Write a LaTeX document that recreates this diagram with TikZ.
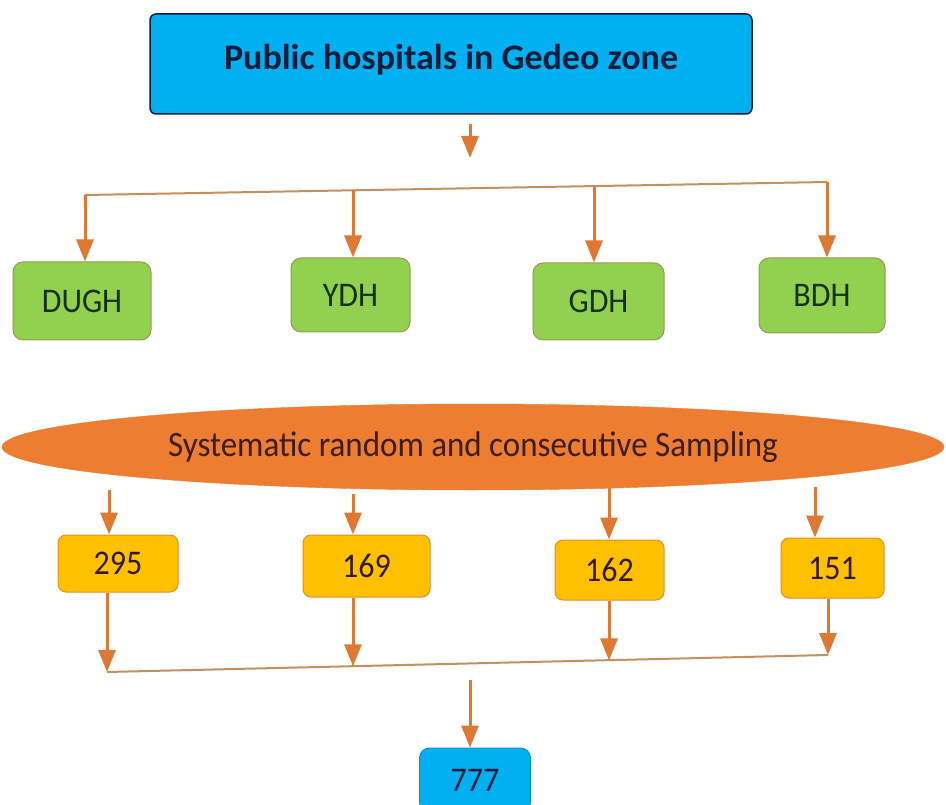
\documentclass[tikz,border=0pt]{standalone}
\usepackage{fontspec}
\usepackage{graphicx}
\setmainfont{Carlito}
\usetikzlibrary{shapes.geometric,arrows.meta}
\definecolor{cyanfill}{RGB}{0,176,240}
\definecolor{navy}{RGB}{16,28,58}
\definecolor{greenfill}{RGB}{146,208,80}
\definecolor{greenedge}{RGB}{160,150,80}
\definecolor{greentxt}{RGB}{22,48,18}
\definecolor{orangefill}{RGB}{237,125,49}
\definecolor{yellowfill}{RGB}{255,192,0}
\definecolor{yellowedge}{RGB}{230,140,40}
\definecolor{numtxt}{RGB}{50,26,12}
\definecolor{arrowcol}{RGB}{222,120,50}
\definecolor{linecol}{RGB}{195,145,95}
\definecolor{samptxt}{RGB}{60,30,20}
\newcommand\talltxt[1]{\scalebox{1}[1.08]{#1}}
\begin{document}
\begin{tikzpicture}[x=1pt,y=-1pt,
  topbox/.style={draw=navy,line width=1.5pt,fill=cyanfill,rounded corners=6pt,inner sep=0pt,
    minimum width=602pt,minimum height=100pt,text=navy,font=\fontsize{36}{40}\selectfont\bfseries},
  hbox/.style={draw=greenedge,line width=1pt,fill=greenfill,rounded corners=10pt,inner sep=0pt,
    text=greentxt,font=\fontsize{32}{34}\selectfont},
  nbox/.style={draw=yellowedge,line width=1pt,fill=yellowfill,rounded corners=8pt,inner sep=0pt,
    text=numtxt,font=\fontsize{32}{34}\selectfont},
  totbox/.style={draw=cyanfill!80!black,line width=0.8pt,fill=cyanfill,rounded corners=10pt,inner sep=0pt,
    minimum width=111pt,minimum height=64pt,text=navy,font=\fontsize{32}{34}\selectfont},
  samp/.style={ellipse,fill=orangefill,draw=orangefill,inner sep=0pt,minimum width=942pt,minimum height=86pt,
    text=samptxt,font=\fontsize{33}{36}\selectfont},
  arr/.style={draw=arrowcol,line width=3pt,-{Triangle[width=17pt,length=22pt]}},
  joinline/.style={draw=linecol,line width=2pt}]
\useasboundingbox (0,0) rectangle (946,805);
\fill[white] (0,0) rectangle (946,805);

% nodes
\node[topbox] (top) at (451,64) {\raisebox{14pt}{Public hospitals in Gedeo zone}};
\node[hbox,minimum width=138pt,minimum height=78pt] (dugh) at (82,301) {\talltxt{DUGH}};
\node[hbox,minimum width=119pt,minimum height=74pt] (ydh) at (350.5,295) {\talltxt{YDH}};
\node[hbox,minimum width=131pt,minimum height=77pt] (gdh) at (598.5,301.5) {\talltxt{GDH}};
\node[hbox,minimum width=126pt,minimum height=75pt] (bdh) at (822,295.5) {\talltxt{BDH}};
\node[samp] (samp) at (473,447) {\talltxt{Systematic random and consecutive Sampling}};
\node[nbox,minimum width=120pt,minimum height=57pt] (n295) at (118,563.5) {\talltxt{295}};
\node[nbox,minimum width=127pt,minimum height=62pt] (n169) at (366.5,566) {\talltxt{169}};
\node[nbox,minimum width=109pt,minimum height=60pt] (n162) at (609.5,570) {\talltxt{162}};
\node[nbox,minimum width=103pt,minimum height=60pt] (n151) at (832.5,568) {\talltxt{151}};
\node[totbox] (tot) at (475,780) {\talltxt{777}};

% coordinates
\coordinate (ta) at (470,124);
\coordinate (tb) at (470,158);
\coordinate (h1) at (85,195);
\coordinate (h2) at (353,190.3);
\coordinate (h3) at (594,186);
\coordinate (h4) at (827,182);
\coordinate (e1) at (109,490);
\coordinate (e2) at (353,494);
\coordinate (e3) at (609,488);
\coordinate (e4) at (815,487);
\coordinate (b1) at (107,672);
\coordinate (b2) at (353,666.3);
\coordinate (b3) at (609,660.4);
\coordinate (b4) at (828,655);
\coordinate (ba) at (470,680);

% connectors
\draw[arr] (ta) -- (tb);
\draw[joinline] (h1) -- (h4);
\draw[arr] (h1) -- (h1 |- dugh.north);
\draw[arr] (h2) -- (h2 |- ydh.north);
\draw[arr] (h3) -- (h3 |- gdh.north);
\draw[arr] (h4) -- (h4 |- bdh.north);
\draw[arr] (e1) -- (e1 |- n295.north);
\draw[arr] (e2) -- (e2 |- n169.north);
\draw[arr] (e3) -- (e3 |- n162.north);
\draw[arr] (e4) -- (e4 |- n151.north);
\draw[joinline] (b1) -- (b4);
\draw[arr] (b1 |- n295.south) -- (b1);
\draw[arr] (b2 |- n169.south) -- (b2);
\draw[arr] (b3 |- n162.south) -- (b3);
\draw[arr] (b4 |- n151.south) -- (b4);
\draw[arr] (ba) -- (ba |- tot.north);
\end{tikzpicture}
\end{document}
